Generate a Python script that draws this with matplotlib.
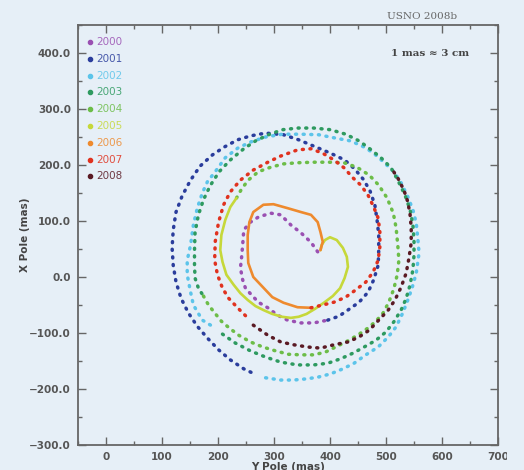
import matplotlib.pyplot as plt
from matplotlib.ticker import MultipleLocator, FuncFormatter
from matplotlib.transforms import Bbox

# polar motion path per year (mas)
years = ["2000", "2001", "2002", "2003", "2004", "2005", "2006", "2007", "2008"]
colors = ["#9a50b2", "#2a3d9c", "#5cc4ea", "#2e9a60", "#6cbd48",
          "#c6d83a", "#ee8a2e", "#e0321f", "#5a1a24"]

x_2000 = [378, 366, 348, 330, 312, 294, 272, 258, 246, 244, 242, 240, 244, 249, 258, 272,
          289, 306, 324, 348, 371, 396]
y_2000 = [45, 62, 79, 93, 111, 114, 107, 98, 84, 57, 34, 16, -5, -20, -30, -45,
          -55, -68, -77, -82, -82, -77]

x_2001 = [396, 416, 432, 452, 468, 478, 486, 487, 487, 484, 480, 471, 459, 444, 426, 401,
          375, 344, 317, 285, 258, 235, 211, 190, 168, 151, 136, 125, 120, 118, 120, 125,
          134, 147, 163, 181, 201, 222, 246, 269]
y_2001 = [-77, -70, -59, -45, -27, -5, 21, 48, 75, 102, 129, 155, 175, 193, 209, 221,
          232, 245, 254, 257, 252, 245, 232, 218, 198, 173, 145, 116, 84, 52, 21, -9,
          -38, -64, -88, -109, -130, -148, -164, -175]

x_2002 = [285, 312, 335, 357, 378, 401, 423, 443, 464, 486, 504, 518, 530, 539, 547, 554,
          559, 557, 554, 548, 539, 527, 514, 496, 478, 461, 437, 410, 380, 348, 315, 285,
          258, 235, 213, 195, 181, 172, 163, 156, 151, 145, 145, 151, 156, 172, 190]
y_2002 = [-180, -184, -184, -182, -179, -173, -164, -154, -139, -125, -107, -89, -64, -41, -18, 7,
          43, 66, 96, 120, 143, 168, 188, 205, 221, 232, 243, 248, 254, 255, 255, 250,
          241, 230, 213, 188, 170, 150, 123, 93, 57, 30, 4, -27, -50, -77, -88]

x_2003 = [208, 231, 258, 285, 312, 342, 371, 396, 419, 441, 461, 482, 500, 514, 527, 536,
          543, 548, 550, 550, 548, 543, 534, 521, 509, 491, 471, 452, 428, 401, 371, 342,
          315, 290, 267, 246, 222, 202, 186, 174, 165, 159, 158, 158, 159, 165, 174]
y_2003 = [-102, -118, -132, -143, -152, -157, -157, -154, -146, -136, -125, -113, -98, -80, -59, -38,
          -14, 13, 39, 66, 93, 120, 146, 173, 195, 213, 229, 243, 255, 263, 266, 266,
          263, 254, 243, 229, 209, 188, 163, 138, 111, 80, 48, 21, -2, -20, -34]

x_2004 = [174, 183, 194, 206, 220, 237, 258, 280, 303, 326, 348, 371, 392, 414, 434, 452,
          468, 482, 495, 505, 514, 520, 523, 521, 518, 513, 502, 487, 470, 448, 425, 398,
          371, 342, 317, 294, 272, 254, 242, 233]
y_2004 = [-34, -50, -64, -79, -91, -104, -116, -125, -132, -138, -139, -139, -134, -123, -113, -102,
          -91, -79, -64, -45, -21, 4, 30, 57, 88, 114, 141, 164, 182, 196, 204, 205,
          205, 204, 202, 196, 188, 173, 157, 141]

x_2005 = [233, 222, 213, 206, 204, 208, 215, 228, 240, 253, 267, 281, 297, 314, 330, 344,
          358, 373, 389, 405, 418, 426, 432, 430, 423, 412, 400, 391, 385, 383]
y_2005 = [141, 125, 102, 75, 48, 27, 4, -14, -29, -41, -52, -59, -66, -71, -73, -71,
          -66, -57, -46, -34, -20, -2, 18, 36, 52, 66, 71, 66, 57, 48]

x_2006 = [383, 387, 383, 378, 366, 348, 324, 299, 281, 263, 256, 253, 253, 254, 263, 280,
          297, 317, 342, 366]
y_2006 = [48, 63, 80, 98, 111, 116, 123, 130, 129, 116, 98, 75, 48, 25, 0, -18,
          -36, -46, -54, -55]

x_2007 = [366, 387, 407, 428, 446, 464, 477, 486, 489, 489, 486, 478, 468, 455, 441, 425,
          407, 387, 366, 342, 312, 289, 263, 240, 222, 210, 201, 195, 194, 199, 208, 219,
          235, 253]
y_2007 = [-55, -50, -45, -36, -23, -9, 9, 30, 54, 80, 105, 125, 146, 164, 177, 195,
          209, 221, 229, 227, 216, 205, 191, 173, 152, 129, 98, 63, 30, 4, -20, -38,
          -55, -73]

x_2008 = [263, 289, 312, 335, 360, 383, 407, 432, 452, 470, 487, 504, 516, 527, 536, 541,
          545, 545, 543, 539, 532, 521, 509]
y_2008 = [-86, -104, -116, -121, -125, -127, -121, -116, -107, -95, -77, -59, -41, -18, 7, 34,
          61, 88, 111, 134, 155, 177, 195]

xs = [x_2000, x_2001, x_2002, x_2003, x_2004, x_2005, x_2006, x_2007, x_2008]
ys = [y_2000, y_2001, y_2002, y_2003, y_2004, y_2005, y_2006, y_2007, y_2008]

bg = "#e6eff7"
spine_col = "#666666"
text_col = "#555555"

fig = plt.figure(figsize=(5.24, 4.70), dpi=100, facecolor=bg)
ax = fig.add_axes([0.1489, 0.0532, 0.8015, 0.8936], facecolor=bg)

for yr, c, x, y in zip(years, colors, xs, ys):
    if yr in ("2005", "2006"):
        ax.plot(x, y, color=c, lw=1.9, solid_capstyle="round", solid_joinstyle="round")
    else:
        ax.plot(x, y, color=c, lw=2.5, linestyle=(0, (0.3, 1.9)), dash_capstyle="round")

ax.set_xlim(-50, 700)
ax.set_ylim(-300, 450)

ax.xaxis.set_major_locator(MultipleLocator(100))
ax.xaxis.set_minor_locator(MultipleLocator(50))
ax.yaxis.set_major_locator(MultipleLocator(100))
ax.yaxis.set_minor_locator(MultipleLocator(50))
ax.yaxis.set_major_formatter(FuncFormatter(lambda v, p: f"{v:.1f}".replace("-", "\u2212")))
ax.xaxis.set_major_formatter(FuncFormatter(lambda v, p: f"{v:.0f}"))

ax.tick_params(which="both", direction="in", top=True, right=True, color=spine_col,
               width=1.0, labelsize=7.5, labelcolor=text_col)
ax.tick_params(which="major", length=6)
ax.tick_params(which="minor", length=3)
ax.tick_params(axis="y", pad=5)
ax.tick_params(axis="x", pad=5)
for lab in ax.get_xticklabels() + ax.get_yticklabels():
    lab.set_fontweight("bold")

for s in ax.spines.values():
    s.set_color(spine_col)
    s.set_linewidth(1.3)

ax.set_ylabel("X Pole (mas)", fontsize=7.5, fontweight="bold", color="#444444")
ax.yaxis.set_label_coords(-0.114, 0.5)
ax.set_xlabel("Y Pole (mas)", fontsize=7.5, fontweight="bold", color="#444444", labelpad=0)

# legend: coloured dot and coloured year
for i, (yr, c) in enumerate(zip(years, colors)):
    yy = 0.9595 - i * 0.040
    ax.plot([0.0286], [yy], "o", ms=3, color=c, transform=ax.transAxes, clip_on=False)
    ax.text(0.043, yy, yr, color=c, fontsize=7.5, va="center", ha="left",
            transform=ax.transAxes, alpha=0.85)

ax.text(0.838, 0.933, "1 mas \u2248 3 cm", transform=ax.transAxes, ha="center", va="center",
        fontsize=7.5, fontweight="bold", family="DejaVu Serif", color="#444444")
fig.text(0.805, 0.964, "USNO 2008b", ha="center", va="center", fontsize=7.5,
         family="DejaVu Serif", color="#666666")

# the last x tick label is cut by the image edge in the original
fig.canvas.draw()
clip = Bbox.from_extents(0, 0, 507, 470)
for lab in ax.get_xticklabels():
    lab.set_clip_box(clip)
    lab.set_clip_on(True)

fig.savefig("out.png", dpi=100, facecolor=bg)
